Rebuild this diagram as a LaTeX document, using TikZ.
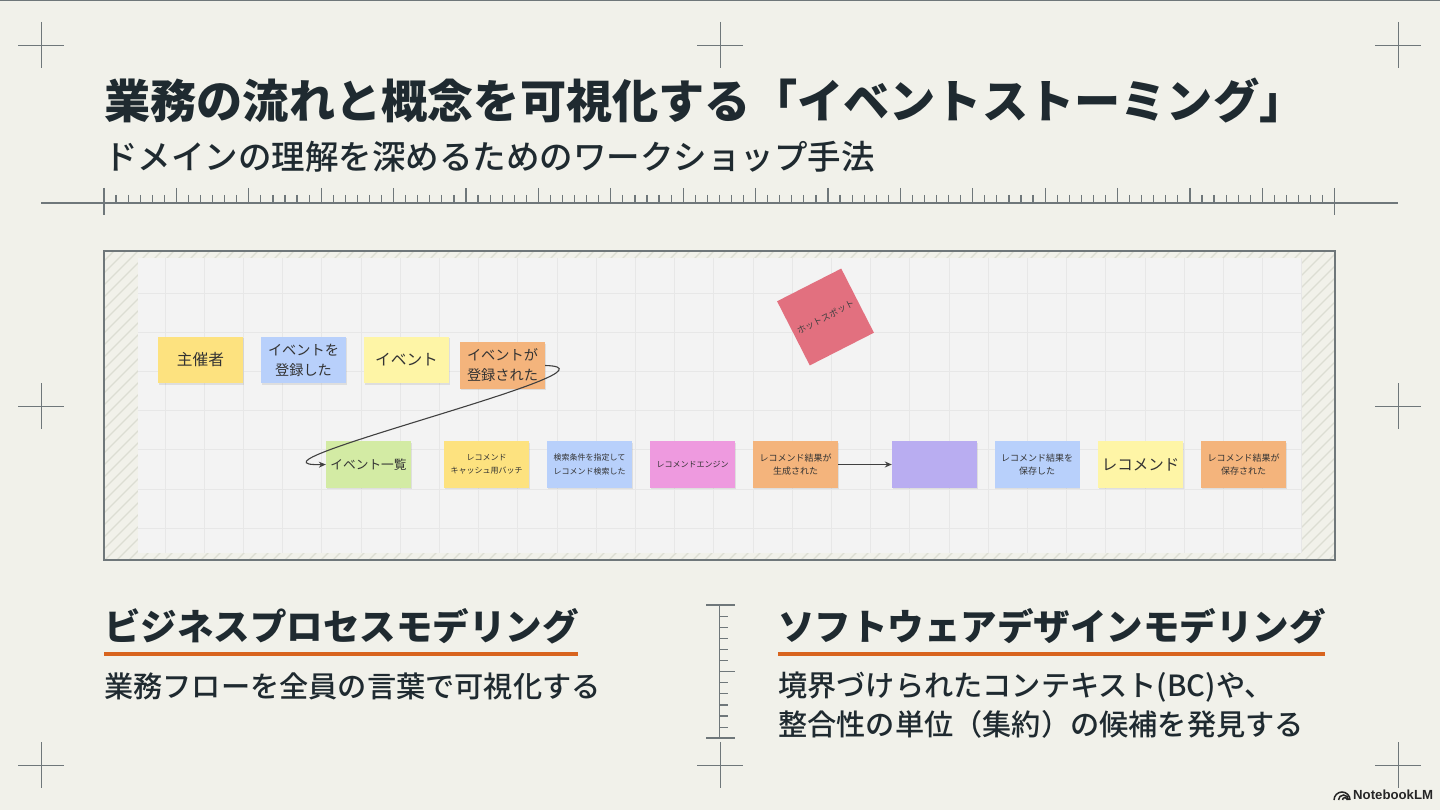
\documentclass[tikz,border=0pt]{standalone}
\usepackage{fontspec}
\setmainfont{Noto Sans CJK JP}
\newfontfamily\medfont{Noto Sans CJK JP Medium}
\newfontfamily\logofont{Liberation Sans}
\usetikzlibrary{arrows.meta,shadows}
\definecolor{paper}{HTML}{F1F1EA}
\definecolor{ink}{HTML}{1F2A30}
\definecolor{rulegray}{HTML}{6F777A}
\definecolor{panelbg}{HTML}{F3F3F3}
\definecolor{gridline}{HTML}{E7E7E7}
\definecolor{hatchline}{HTML}{DCDDD3}
\definecolor{accent}{HTML}{D8641E}
\definecolor{stkyellow}{HTML}{FDE27F}
\definecolor{stkblue}{HTML}{B8D0FB}
\definecolor{stklemon}{HTML}{FEF5A6}
\definecolor{stkorange}{HTML}{F4B47C}
\definecolor{stkgreen}{HTML}{D3EBA4}
\definecolor{stkpink}{HTML}{EE9ADF}
\definecolor{stkpurple}{HTML}{B9ADF1}
\definecolor{stkred}{HTML}{E2707F}
\begin{document}
\begin{tikzpicture}[
	x=1pt,y=-1pt,
	sticky/.style={ inner sep=0pt, minimum width=85pt, minimum height=46.5pt, align=center, text=black!80, font=\fontsize{14.2}{20}\selectfont, drop shadow={shadow xshift=0.6pt,shadow yshift=-1.4pt,opacity=0.18} },
	tiny/.style={ sticky, font=\fontsize{8}{13.5}\selectfont },
	head/.style={ anchor=west, inner sep=0pt, text=ink, font=\fontsize{36.5}{40}\selectfont\bfseries },
	body/.style={ anchor=west, inner sep=0pt, text=ink, font=\medfont\fontsize{29.2}{39}\selectfont },
	flow/.style={ draw=black!75, line width=1.1pt, -{Stealth[length=7pt,width=6pt]} },
	crossline/.style={ draw=rulegray, line width=0.95pt },
	ruletick/.style={ draw=rulegray, line width=1.2pt },
	ruleaxis/.style={ draw=rulegray, line width=1.5pt }
]
\useasboundingbox (0,0) rectangle (1440,810);
\fill[paper] (0,0) rectangle (1440,810);
\draw[rulegray,line width=1.4pt] (0,0.7) -- (1440,0.7);

% registration crosses
\foreach \x/\y in {41/45,720/45,1398/45,41/406,1398/406,41/765,720/765,1398/765} {
	\draw[crossline] (\x-23,\y) -- (\x+23,\y);
	\draw[crossline] (\x,\y-23) -- (\x,\y+23);
}

\node[anchor=west,inner sep=0pt,text=ink,font=\fontsize{46.2}{50}\selectfont\bfseries] (title) at (104,101) {業務の流れと概念を可視化する「イベントストーミング」};
\node[anchor=west,inner sep=0pt,text=ink,font=\medfont\fontsize{33.5}{38}\selectfont] (subtitle) at (104,157) {ドメインの理解を深めるためのワークショップ手法};

% horizontal ruler
\draw[ruleaxis] (41,203) -- (1398,203);
\draw[ruleaxis] (104,188) -- (104,215);
\draw[ruleaxis] (1334.6,188) -- (1334.6,215);
\foreach \i in {1,...,101} {
	\pgfmathsetmacro{\tx}{104+12.066*\i}
	\pgfmathsetmacro{\ty}{ifthenelse(mod(\i,6)==0,188,195)}
	\draw[ruletick] (\tx,\ty) -- (\tx,203);
}

% board
\fill[paper] (104,251) rectangle (1335,560);
\begin{scope}
	\clip (104,251) rectangle (1335,560);
	\foreach \i in {-30,...,105} {
		\draw[hatchline,line width=1.1pt] (90+12*\i,575) -- (90+12*\i+330,245);
	}
\end{scope}
\fill[panelbg] (138,258) rectangle (1302,553);
\foreach \i in {0,...,29} {
	\draw[gridline,line width=0.8pt] (165+39.2*\i,258) -- (165+39.2*\i,553);
}
\foreach \i in {0,...,6} {
	\draw[gridline,line width=0.8pt] (138,293+39.2*\i) -- (1302,293+39.2*\i);
}
\draw[rulegray,line width=1.8pt] (104,251) rectangle (1335,560);

\node[sticky,fill=stkyellow,font=\fontsize{15.7}{20}\selectfont] (host) at (200.5,360) {主催者};
\node[sticky,fill=stkblue] (cmdreg) at (303.5,360) {イベントを\\登録した};
\node[sticky,fill=stklemon,font=\fontsize{15.7}{20}\selectfont] (event) at (406.5,360) {イベント};
\node[sticky,fill=stkorange] (evtreg) at (502.5,365.5) {イベントが\\登録された};

\node[sticky,fill=stkgreen,font=\fontsize{12.7}{16}\selectfont] (evtlist) at (368.5,464.5) {イベント一覧};
\node[tiny,fill=stkyellow] (batch) at (486.5,464.5) {レコメンド\\キャッシュ用バッチ};
\node[tiny,fill=stkblue] (search) at (589.5,464.5) {検索条件を指定して\\レコメンド検索した};
\node[tiny,fill=stkpink] (engine) at (692.5,464.5) {レコメンドエンジン};
\node[tiny,fill=stkorange,font=\fontsize{9}{13.5}\selectfont] (made) at (795.5,464.5) {レコメンド結果が\\生成された};
\node[sticky,fill=stkpurple] (blank) at (934.5,464.5) {};
\node[tiny,fill=stkblue,font=\fontsize{9}{13.5}\selectfont] (save) at (1037,464.5) {レコメンド結果を\\保存した};
\node[sticky,fill=stklemon,font=\fontsize{15.5}{20}\selectfont] (reco) at (1140.5,464.5) {レコメンド};
\node[tiny,fill=stkorange,font=\fontsize{9}{13.5}\selectfont] (saved) at (1243.5,464.5) {レコメンド結果が\\保存された};

\node[fill=stkred,inner sep=0pt,minimum size=72pt,rotate=27,text=black!75,font=\fontsize{9}{10}\selectfont] (hot) at (825.5,317) {ホットスポット};

\draw[flow] (evtreg.east) .. controls (640,368) and (222,467) .. (evtlist.west);
\draw[flow] (made.east) -- (blank.west);

\node[head] (bpmhead) at (104,626) {ビジネスプロセスモデリング};
\draw[accent,line width=3.4pt] (104,654) -- (578,654);
\node[body] (bpmtext) at (104,686) {業務フローを全員の言葉で可視化する};

\node[head] (sdmhead) at (778,626) {ソフトウェアデザインモデリング};
\draw[accent,line width=3.4pt] (778,654) -- (1325,654);
\node[body,align=left] (sdmtext) at (778,705.5) {境界づけられたコンテキスト(BC)や、\\整合性の単位（集約）の候補を発見する};

% vertical ruler
\draw[ruleaxis] (719.5,605) -- (719.5,738);
\draw[ruleaxis] (706,605) -- (735,605);
\draw[ruleaxis] (706,738) -- (735,738);
\foreach \i in {1,...,11} {
	\pgfmathsetmacro{\ty}{605+11.1*\i}
	\pgfmathsetmacro{\tx}{ifthenelse(\i==6,735,727.5)}
	\draw[ruletick] (719.5,\ty) -- (\tx,\ty);
}

% logo
\draw[black!85,line width=1.5pt] (1334,800) arc[start angle=180,end angle=360,radius=8];
\draw[black!85,line width=1.5pt] (1338.5,800) arc[start angle=180,end angle=360,radius=5];
\draw[black!85,line width=1.5pt] (1342.5,800) arc[start angle=180,end angle=360,radius=2.4];
\node[anchor=west,inner sep=0pt,text=black!85,font=\logofont\fontsize{13.2}{14}\selectfont\bfseries] (logo) at (1353,795) {NotebookLM};
\end{tikzpicture}
\end{document}
